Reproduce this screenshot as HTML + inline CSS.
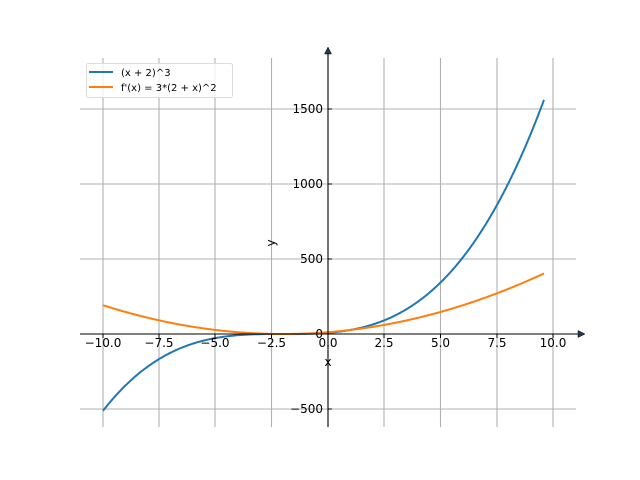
<!DOCTYPE html>
<html><head><style>body{margin:0;background:#fff}svg{display:block}text{font-family:"DejaVu Sans","Liberation Sans",sans-serif;font-size:12px;fill:#000}</style></head>
<body>
<svg width="640" height="480" xmlns="http://www.w3.org/2000/svg">
<g stroke="#b0b0b0" stroke-width="1.1">
<line x1="103" y1="58" x2="103" y2="427"/><line x1="159" y1="58" x2="159" y2="427"/><line x1="215" y1="58" x2="215" y2="427"/><line x1="271.5" y1="58" x2="271.5" y2="427"/><line x1="384" y1="58" x2="384" y2="427"/><line x1="440.5" y1="58" x2="440.5" y2="427"/><line x1="497" y1="58" x2="497" y2="427"/><line x1="553" y1="58" x2="553" y2="427"/>
<line x1="80" y1="109" x2="576" y2="109"/><line x1="80" y1="184" x2="576" y2="184"/><line x1="80" y1="259" x2="576" y2="259"/><line x1="80" y1="409" x2="576" y2="409"/>
</g>
<path id="b" fill="none" stroke="#1f77b4" stroke-width="2"/>
<path id="o" fill="none" stroke="#ff7f0e" stroke-width="2"/>
<g stroke="#000" stroke-width="1.1">
<line x1="80" y1="334" x2="582" y2="334"/><line x1="328" y1="427" x2="328" y2="52"/>
<g stroke-width="1"><line x1="103" y1="334" x2="103" y2="338"/><line x1="159" y1="334" x2="159" y2="338"/><line x1="215" y1="334" x2="215" y2="338"/><line x1="271.5" y1="334" x2="271.5" y2="338"/><line x1="328" y1="334" x2="328" y2="338"/><line x1="384" y1="334" x2="384" y2="338"/><line x1="440.5" y1="334" x2="440.5" y2="338"/><line x1="497" y1="334" x2="497" y2="338"/><line x1="553" y1="334" x2="553" y2="338"/>
<line x1="328" y1="109" x2="332" y2="109"/><line x1="328" y1="184" x2="332" y2="184"/><line x1="328" y1="259" x2="332" y2="259"/><line x1="328" y1="334" x2="332" y2="334"/><line x1="328" y1="409" x2="332" y2="409"/></g>
</g>
<polygon points="585,334 578,330.5 578,337.5" fill="#1f3a5a" stroke="#000" stroke-width="0.5"/>
<polygon points="328,47 324.5,54 331.5,54" fill="#1f3a5a" stroke="#000" stroke-width="0.5"/>
<g text-anchor="middle">
<text x="103" y="347">−10.0</text><text x="159" y="347">−7.5</text><text x="215" y="347">−5.0</text><text x="271.5" y="347">−2.5</text><text x="328" y="347">0.0</text><text x="384" y="347">2.5</text><text x="440.5" y="347">5.0</text><text x="497" y="347">7.5</text><text x="553" y="347">10.0</text>
<text x="328" y="366">x</text>
<text transform="translate(275,243) rotate(-90)">y</text>
</g>
<g text-anchor="end">
<text x="323" y="113">1500</text><text x="323" y="188">1000</text><text x="323" y="263">500</text><text x="323" y="338">0</text><text x="323" y="413">−500</text>
</g>
<rect x="86.5" y="63.5" width="146" height="34" rx="2" fill="#fff" fill-opacity="0.8" stroke="#ddd"/>
<line x1="89" y1="72" x2="113" y2="72" stroke="#1f77b4" stroke-width="2"/>
<line x1="89" y1="87" x2="113" y2="87" stroke="#ff7f0e" stroke-width="2"/>
<text x="121" y="76" style="font-size:10px">(x + 2)^3</text>
<text x="121" y="91" style="font-size:10px">f'(x) = 3*(2 + x)^2</text>
</svg>
<script>
var b="",o="";
for(var i=0;i<=300;i++){var x=-10+19.6*i/300;var px=328+22.5*x;var a=Math.pow(x+2,3),d=3*(x+2)*(x+2);
b+=(i?"L":"M")+px.toFixed(2)+" "+(334-0.15*a).toFixed(2);o+=(i?"L":"M")+px.toFixed(2)+" "+(334-0.15*d).toFixed(2);}
document.getElementById("b").setAttribute("d",b);document.getElementById("o").setAttribute("d",o);
</script>
</body></html>
